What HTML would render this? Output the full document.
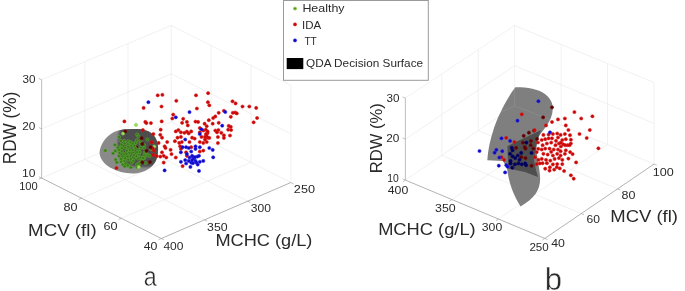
<!DOCTYPE html>
<html><head><meta charset="utf-8"><style>
html,body{margin:0;padding:0;background:#fff;width:685px;height:291px;overflow:hidden}
svg{display:block;will-change:transform}
text{font-family:"Liberation Sans", sans-serif;fill:#2a2a2a}
.big{stroke:#fff;stroke-width:0.4px;vector-effect:non-scaling-stroke}
</style></head><body>
<svg width="685" height="291" viewBox="0 0 685 291">
<rect width="685" height="291" fill="#fff"/>
<line x1="81.5" y1="198.2" x2="211.1" y2="142.2" stroke="#e8e8e8" stroke-width="0.6"/>
<line x1="204.5" y1="219.8" x2="84.8" y2="159.3" stroke="#e8e8e8" stroke-width="0.6"/>
<line x1="84.8" y1="159.3" x2="84.8" y2="61.7" stroke="#e8e8e8" stroke-width="0.6"/>
<line x1="211.1" y1="142.2" x2="211.1" y2="45.4" stroke="#e8e8e8" stroke-width="0.6"/>
<line x1="121.4" y1="218.3" x2="251.0" y2="162.3" stroke="#e8e8e8" stroke-width="0.6"/>
<line x1="247.7" y1="201.2" x2="128.0" y2="140.7" stroke="#e8e8e8" stroke-width="0.6"/>
<line x1="128.0" y1="140.7" x2="128.0" y2="43.6" stroke="#e8e8e8" stroke-width="0.6"/>
<line x1="251.0" y1="162.3" x2="251.0" y2="65.4" stroke="#e8e8e8" stroke-width="0.6"/>
<line x1="41.6" y1="128.9" x2="171.2" y2="73.8" stroke="#e8e8e8" stroke-width="0.6"/>
<line x1="171.2" y1="73.8" x2="290.9" y2="133.9" stroke="#e8e8e8" stroke-width="0.6"/>
<line x1="41.6" y1="79.8" x2="171.2" y2="25.5" stroke="#e8e8e8" stroke-width="0.6"/>
<line x1="171.2" y1="25.5" x2="290.9" y2="85.3" stroke="#e8e8e8" stroke-width="0.6"/>
<line x1="171.2" y1="122.0" x2="171.2" y2="25.5" stroke="#e8e8e8" stroke-width="0.6"/>
<line x1="290.9" y1="182.5" x2="290.9" y2="85.3" stroke="#e8e8e8" stroke-width="0.6"/>
<line x1="41.6" y1="178.0" x2="171.2" y2="122.0" stroke="#e8e8e8" stroke-width="0.6"/>
<line x1="171.2" y1="122.0" x2="290.9" y2="182.5" stroke="#e8e8e8" stroke-width="0.6"/>
<line x1="41.6" y1="178.0" x2="161.3" y2="238.5" stroke="#999999" stroke-width="0.75"/>
<line x1="161.3" y1="238.5" x2="290.9" y2="182.5" stroke="#999999" stroke-width="0.75"/>
<line x1="41.6" y1="178.0" x2="41.6" y2="79.8" stroke="#c4c4c4" stroke-width="1.1"/>
<line x1="41.6" y1="178.0" x2="38.8" y2="179.2" stroke="#999999" stroke-width="0.6"/>
<line x1="81.5" y1="198.2" x2="78.7" y2="199.4" stroke="#999999" stroke-width="0.6"/>
<line x1="121.4" y1="218.3" x2="118.6" y2="219.5" stroke="#999999" stroke-width="0.6"/>
<line x1="161.3" y1="238.5" x2="158.5" y2="239.7" stroke="#999999" stroke-width="0.6"/>
<line x1="161.3" y1="238.5" x2="164.0" y2="239.9" stroke="#999999" stroke-width="0.6"/>
<line x1="204.5" y1="219.8" x2="207.2" y2="221.2" stroke="#999999" stroke-width="0.6"/>
<line x1="247.7" y1="201.2" x2="250.4" y2="202.5" stroke="#999999" stroke-width="0.6"/>
<line x1="290.9" y1="182.5" x2="293.6" y2="183.9" stroke="#999999" stroke-width="0.6"/>
<line x1="41.6" y1="178.0" x2="38.9" y2="176.6" stroke="#999999" stroke-width="0.6"/>
<line x1="41.6" y1="128.9" x2="38.9" y2="127.5" stroke="#999999" stroke-width="0.6"/>
<line x1="41.6" y1="79.8" x2="38.9" y2="78.4" stroke="#999999" stroke-width="0.6"/>
<line x1="451.9" y1="199.5" x2="561.1" y2="125.2" stroke="#e8e8e8" stroke-width="0.6"/>
<line x1="581.2" y1="213.6" x2="441.8" y2="155.3" stroke="#e8e8e8" stroke-width="0.6"/>
<line x1="441.8" y1="155.3" x2="441.8" y2="73.9" stroke="#e8e8e8" stroke-width="0.6"/>
<line x1="561.1" y1="125.2" x2="561.1" y2="44.5" stroke="#e8e8e8" stroke-width="0.6"/>
<line x1="498.3" y1="219.0" x2="607.5" y2="144.7" stroke="#e8e8e8" stroke-width="0.6"/>
<line x1="617.6" y1="188.9" x2="478.2" y2="130.6" stroke="#e8e8e8" stroke-width="0.6"/>
<line x1="478.2" y1="130.6" x2="478.2" y2="49.7" stroke="#e8e8e8" stroke-width="0.6"/>
<line x1="607.5" y1="144.7" x2="607.5" y2="63.5" stroke="#e8e8e8" stroke-width="0.6"/>
<line x1="405.4" y1="139.1" x2="514.6" y2="65.6" stroke="#e8e8e8" stroke-width="0.6"/>
<line x1="514.6" y1="65.6" x2="654.0" y2="123.3" stroke="#e8e8e8" stroke-width="0.6"/>
<line x1="405.4" y1="98.1" x2="514.6" y2="25.5" stroke="#e8e8e8" stroke-width="0.6"/>
<line x1="514.6" y1="25.5" x2="654.0" y2="82.5" stroke="#e8e8e8" stroke-width="0.6"/>
<line x1="514.6" y1="105.8" x2="514.6" y2="25.5" stroke="#e8e8e8" stroke-width="0.6"/>
<line x1="654.0" y1="164.1" x2="654.0" y2="82.5" stroke="#e8e8e8" stroke-width="0.6"/>
<line x1="405.4" y1="180.1" x2="514.6" y2="105.8" stroke="#e8e8e8" stroke-width="0.6"/>
<line x1="514.6" y1="105.8" x2="654.0" y2="164.1" stroke="#e8e8e8" stroke-width="0.6"/>
<line x1="405.4" y1="180.1" x2="544.8" y2="238.4" stroke="#999999" stroke-width="0.75"/>
<line x1="544.8" y1="238.4" x2="654.0" y2="164.1" stroke="#999999" stroke-width="0.75"/>
<line x1="405.4" y1="180.1" x2="405.4" y2="98.1" stroke="#c4c4c4" stroke-width="1.1"/>
<line x1="405.4" y1="180.1" x2="402.9" y2="181.8" stroke="#999999" stroke-width="0.6"/>
<line x1="451.9" y1="199.5" x2="449.4" y2="201.2" stroke="#999999" stroke-width="0.6"/>
<line x1="498.3" y1="219.0" x2="495.9" y2="220.7" stroke="#999999" stroke-width="0.6"/>
<line x1="544.8" y1="238.4" x2="542.3" y2="240.1" stroke="#999999" stroke-width="0.6"/>
<line x1="544.8" y1="238.4" x2="547.6" y2="239.6" stroke="#999999" stroke-width="0.6"/>
<line x1="581.2" y1="213.6" x2="584.0" y2="214.8" stroke="#999999" stroke-width="0.6"/>
<line x1="617.6" y1="188.9" x2="620.4" y2="190.0" stroke="#999999" stroke-width="0.6"/>
<line x1="654.0" y1="164.1" x2="656.8" y2="165.3" stroke="#999999" stroke-width="0.6"/>
<line x1="405.4" y1="180.1" x2="402.6" y2="178.9" stroke="#999999" stroke-width="0.6"/>
<line x1="405.4" y1="139.1" x2="402.6" y2="137.9" stroke="#999999" stroke-width="0.6"/>
<line x1="405.4" y1="98.1" x2="402.6" y2="96.9" stroke="#999999" stroke-width="0.6"/>
<defs><clipPath id="ec"><path d="M99.6,152 C100.5,144 106,136 114,132 C121,129 132,128.8 141,129.3 C148,130 154,134 156.5,140 C158.8,146 158.6,154 156,160.5 C153,167 146,171.5 137,173.2 C128,174.2 118,172.2 110,167.5 C103.5,163.5 99.4,158 99.6,152 Z"/></clipPath><filter id="bl" x="-20%" y="-20%" width="140%" height="140%"><feGaussianBlur stdDeviation="1.1"/></filter></defs>
<path d="M99.6,152 C100.5,144 106,136 114,132 C121,129 132,128.8 141,129.3 C148,130 154,134 156.5,140 C158.8,146 158.6,154 156,160.5 C153,167 146,171.5 137,173.2 C128,174.2 118,172.2 110,167.5 C103.5,163.5 99.4,158 99.6,152 Z" fill="#8a8a8a"/>
<g clip-path="url(#ec)"><path filter="url(#bl)" d="M121,126 C127,124 134,124 141,124 C150,124 160,130 162,140 C164,150 162,158 158,163 C155,166 152.5,166.5 150,166.8 C142,167.5 132,167 126,164 C120,160 117.5,152 117.8,144 C118,138 119,132 121,126 Z" fill="#4e4e4e"/></g>
<path d="M515.3,87.3 C527,87.2 538,89 545,94 C550,98 553,103 552.8,109 C552.6,115 550,121 546.5,126 C543,131 539,135 537,140 C534.5,150 539.5,165 540,176 C541,188 536,198 520.6,206.4 C514,196 509,184 507,168 L503,161 L487.3,160.2 C488,150 490,140 494,128 C497.5,118 505,101 515.3,87.3 Z" fill="#7f7f7f"/>
<path d="M514.6,87.6 L514.6,106 L496,114 M514.6,106 L551.5,120" stroke="#ffffff" stroke-opacity="0.12" stroke-width="0.7" fill="none"/>
<path d="M507.5,146 L521,139.5 L536,132.5 L541,130 L537.5,140 L536,149 L534,160 L536,170 L538,177 L525,172 L508,168.5 Z" fill="#4e4e4e"/>
<circle cx="125.2" cy="131.4" r="1.6" fill="#5a0000" stroke="#700808" stroke-width="0.55"/>
<circle cx="141.4" cy="162.0" r="1.6" fill="#5a0000" stroke="#700808" stroke-width="0.55"/>
<circle cx="136.2" cy="147.3" r="1.6" fill="#5a0000" stroke="#700808" stroke-width="0.55"/>
<circle cx="119.1" cy="137.0" r="1.6" fill="#357a16" stroke="#66ad3a" stroke-width="0.55"/>
<circle cx="137.1" cy="134.5" r="1.6" fill="#357a16" stroke="#66ad3a" stroke-width="0.55"/>
<circle cx="114.8" cy="144.8" r="1.6" fill="#357a16" stroke="#66ad3a" stroke-width="0.55"/>
<circle cx="113.0" cy="153.4" r="1.6" fill="#357a16" stroke="#66ad3a" stroke-width="0.55"/>
<circle cx="119.9" cy="147.7" r="1.6" fill="#357a16" stroke="#66ad3a" stroke-width="0.55"/>
<circle cx="105.3" cy="150.5" r="1.6" fill="#357a16" stroke="#66ad3a" stroke-width="0.55"/>
<circle cx="122.0" cy="160.0" r="1.6" fill="#357a16" stroke="#66ad3a" stroke-width="0.55"/>
<circle cx="128.0" cy="166.0" r="1.6" fill="#357a16" stroke="#66ad3a" stroke-width="0.55"/>
<circle cx="121.0" cy="141.0" r="1.6" fill="#357a16" stroke="#66ad3a" stroke-width="0.55"/>
<circle cx="131.7" cy="162.6" r="1.6" fill="#357a16" stroke="#66ad3a" stroke-width="0.55"/>
<circle cx="124.5" cy="161.0" r="1.6" fill="#357a16" stroke="#66ad3a" stroke-width="0.55"/>
<circle cx="129.2" cy="152.8" r="1.6" fill="#357a16" stroke="#66ad3a" stroke-width="0.55"/>
<circle cx="144.3" cy="155.5" r="1.6" fill="#357a16" stroke="#66ad3a" stroke-width="0.55"/>
<circle cx="130.7" cy="159.2" r="1.6" fill="#357a16" stroke="#66ad3a" stroke-width="0.55"/>
<circle cx="138.9" cy="154.3" r="1.6" fill="#357a16" stroke="#66ad3a" stroke-width="0.55"/>
<circle cx="135.1" cy="148.2" r="1.6" fill="#357a16" stroke="#66ad3a" stroke-width="0.55"/>
<circle cx="121.7" cy="144.7" r="1.6" fill="#357a16" stroke="#66ad3a" stroke-width="0.55"/>
<circle cx="119.6" cy="152.9" r="1.6" fill="#357a16" stroke="#66ad3a" stroke-width="0.55"/>
<circle cx="131.5" cy="145.8" r="1.6" fill="#357a16" stroke="#66ad3a" stroke-width="0.55"/>
<circle cx="130.4" cy="156.0" r="1.6" fill="#357a16" stroke="#66ad3a" stroke-width="0.55"/>
<circle cx="128.2" cy="141.4" r="1.6" fill="#357a16" stroke="#66ad3a" stroke-width="0.55"/>
<circle cx="121.1" cy="161.7" r="1.6" fill="#357a16" stroke="#66ad3a" stroke-width="0.55"/>
<circle cx="115.6" cy="159.7" r="1.6" fill="#357a16" stroke="#66ad3a" stroke-width="0.55"/>
<circle cx="133.3" cy="152.5" r="1.6" fill="#357a16" stroke="#66ad3a" stroke-width="0.55"/>
<circle cx="134.2" cy="157.9" r="1.6" fill="#357a16" stroke="#66ad3a" stroke-width="0.55"/>
<circle cx="126.9" cy="150.6" r="1.6" fill="#357a16" stroke="#66ad3a" stroke-width="0.55"/>
<circle cx="124.1" cy="154.2" r="1.6" fill="#357a16" stroke="#66ad3a" stroke-width="0.55"/>
<circle cx="117.9" cy="147.4" r="1.6" fill="#357a16" stroke="#66ad3a" stroke-width="0.55"/>
<circle cx="124.3" cy="140.9" r="1.6" fill="#357a16" stroke="#66ad3a" stroke-width="0.55"/>
<circle cx="138.5" cy="149.7" r="1.6" fill="#357a16" stroke="#66ad3a" stroke-width="0.55"/>
<circle cx="129.9" cy="150.1" r="1.6" fill="#357a16" stroke="#66ad3a" stroke-width="0.55"/>
<circle cx="141.7" cy="160.7" r="1.6" fill="#357a16" stroke="#66ad3a" stroke-width="0.55"/>
<circle cx="127.6" cy="156.5" r="1.6" fill="#357a16" stroke="#66ad3a" stroke-width="0.55"/>
<circle cx="127.7" cy="165.2" r="1.6" fill="#357a16" stroke="#66ad3a" stroke-width="0.55"/>
<circle cx="133.3" cy="160.8" r="1.6" fill="#357a16" stroke="#66ad3a" stroke-width="0.55"/>
<circle cx="144.6" cy="157.9" r="1.6" fill="#357a16" stroke="#66ad3a" stroke-width="0.55"/>
<circle cx="122.8" cy="156.4" r="1.6" fill="#357a16" stroke="#66ad3a" stroke-width="0.55"/>
<circle cx="125.2" cy="147.6" r="1.6" fill="#357a16" stroke="#66ad3a" stroke-width="0.55"/>
<circle cx="121.9" cy="151.2" r="1.6" fill="#357a16" stroke="#66ad3a" stroke-width="0.55"/>
<circle cx="120.9" cy="158.8" r="1.6" fill="#357a16" stroke="#66ad3a" stroke-width="0.55"/>
<circle cx="127.9" cy="144.2" r="1.6" fill="#357a16" stroke="#66ad3a" stroke-width="0.55"/>
<circle cx="132.7" cy="150.0" r="1.6" fill="#357a16" stroke="#66ad3a" stroke-width="0.55"/>
<circle cx="128.2" cy="159.8" r="1.6" fill="#357a16" stroke="#66ad3a" stroke-width="0.55"/>
<circle cx="126.5" cy="153.7" r="1.6" fill="#357a16" stroke="#66ad3a" stroke-width="0.55"/>
<circle cx="135.7" cy="142.9" r="1.6" fill="#357a16" stroke="#66ad3a" stroke-width="0.55"/>
<circle cx="134.5" cy="145.8" r="1.6" fill="#357a16" stroke="#66ad3a" stroke-width="0.55"/>
<circle cx="147.8" cy="155.0" r="1.6" fill="#357a16" stroke="#66ad3a" stroke-width="0.55"/>
<circle cx="130.6" cy="142.1" r="1.6" fill="#357a16" stroke="#66ad3a" stroke-width="0.55"/>
<circle cx="144.2" cy="148.1" r="1.6" fill="#357a16" stroke="#66ad3a" stroke-width="0.55"/>
<circle cx="116.8" cy="162.4" r="1.6" fill="#357a16" stroke="#66ad3a" stroke-width="0.55"/>
<circle cx="130.8" cy="167.4" r="1.6" fill="#357a16" stroke="#66ad3a" stroke-width="0.55"/>
<circle cx="118.9" cy="156.1" r="1.6" fill="#357a16" stroke="#66ad3a" stroke-width="0.55"/>
<circle cx="136.9" cy="164.6" r="1.6" fill="#357a16" stroke="#66ad3a" stroke-width="0.55"/>
<circle cx="136.3" cy="156.1" r="1.6" fill="#357a16" stroke="#66ad3a" stroke-width="0.55"/>
<circle cx="144.6" cy="152.5" r="1.6" fill="#357a16" stroke="#66ad3a" stroke-width="0.55"/>
<circle cx="138.1" cy="158.5" r="1.6" fill="#357a16" stroke="#66ad3a" stroke-width="0.55"/>
<circle cx="137.2" cy="152.1" r="1.6" fill="#357a16" stroke="#66ad3a" stroke-width="0.55"/>
<circle cx="140.9" cy="147.6" r="1.6" fill="#357a16" stroke="#66ad3a" stroke-width="0.55"/>
<circle cx="140.2" cy="162.8" r="1.6" fill="#357a16" stroke="#66ad3a" stroke-width="0.55"/>
<circle cx="124.8" cy="143.5" r="1.6" fill="#357a16" stroke="#66ad3a" stroke-width="0.55"/>
<circle cx="139.8" cy="152.0" r="1.6" fill="#357a16" stroke="#66ad3a" stroke-width="0.55"/>
<circle cx="118.9" cy="149.7" r="1.6" fill="#357a16" stroke="#66ad3a" stroke-width="0.55"/>
<circle cx="140.5" cy="143.7" r="1.6" fill="#357a16" stroke="#66ad3a" stroke-width="0.55"/>
<circle cx="132.7" cy="143.7" r="1.6" fill="#357a16" stroke="#66ad3a" stroke-width="0.55"/>
<circle cx="125.5" cy="163.5" r="1.6" fill="#357a16" stroke="#66ad3a" stroke-width="0.55"/>
<circle cx="122.8" cy="164.6" r="1.6" fill="#357a16" stroke="#66ad3a" stroke-width="0.55"/>
<circle cx="121.9" cy="148.3" r="1.6" fill="#357a16" stroke="#66ad3a" stroke-width="0.55"/>
<circle cx="115.3" cy="150.9" r="1.6" fill="#357a16" stroke="#66ad3a" stroke-width="0.55"/>
<circle cx="124.7" cy="166.3" r="1.6" fill="#357a16" stroke="#66ad3a" stroke-width="0.55"/>
<circle cx="136.7" cy="140.4" r="1.6" fill="#357a16" stroke="#66ad3a" stroke-width="0.55"/>
<circle cx="128.3" cy="146.8" r="1.6" fill="#357a16" stroke="#66ad3a" stroke-width="0.55"/>
<circle cx="137.3" cy="167.1" r="1.6" fill="#357a16" stroke="#66ad3a" stroke-width="0.55"/>
<circle cx="125.2" cy="158.2" r="1.6" fill="#357a16" stroke="#66ad3a" stroke-width="0.55"/>
<circle cx="134.0" cy="155.0" r="1.6" fill="#357a16" stroke="#66ad3a" stroke-width="0.55"/>
<circle cx="140.6" cy="157.6" r="1.6" fill="#357a16" stroke="#66ad3a" stroke-width="0.55"/>
<circle cx="140.5" cy="141.0" r="1.6" fill="#357a16" stroke="#66ad3a" stroke-width="0.55"/>
<circle cx="144.0" cy="145.0" r="1.6" fill="#357a16" stroke="#66ad3a" stroke-width="0.55"/>
<circle cx="147.5" cy="139.5" r="1.6" fill="#357a16" stroke="#66ad3a" stroke-width="0.55"/>
<circle cx="146.0" cy="152.0" r="1.6" fill="#357a16" stroke="#66ad3a" stroke-width="0.55"/>
<circle cx="149.5" cy="156.0" r="1.6" fill="#357a16" stroke="#66ad3a" stroke-width="0.55"/>
<circle cx="143.0" cy="158.0" r="1.6" fill="#357a16" stroke="#66ad3a" stroke-width="0.55"/>
<circle cx="139.0" cy="163.5" r="1.6" fill="#357a16" stroke="#66ad3a" stroke-width="0.55"/>
<circle cx="151.0" cy="149.0" r="1.6" fill="#357a16" stroke="#66ad3a" stroke-width="0.55"/>
<circle cx="145.5" cy="163.0" r="1.6" fill="#357a16" stroke="#66ad3a" stroke-width="0.55"/>
<circle cx="138.5" cy="136.5" r="1.6" fill="#357a16" stroke="#66ad3a" stroke-width="0.55"/>
<circle cx="136.0" cy="124.9" r="1.6" fill="#9ee060" stroke="#7acc40" stroke-width="0.55"/>
<circle cx="123.0" cy="133.6" r="1.6" fill="#9ee060" stroke="#7acc40" stroke-width="0.55"/>
<circle cx="138.8" cy="167.1" r="1.6" fill="#9ee060" stroke="#7acc40" stroke-width="0.55"/>
<circle cx="154.3" cy="146.5" r="1.6" fill="#9ee060" stroke="#7acc40" stroke-width="0.55"/>
<circle cx="157.7" cy="95.3" r="1.6" fill="#c40808" stroke="#e01616" stroke-width="0.55"/>
<circle cx="162.4" cy="94.8" r="1.6" fill="#c40808" stroke="#e01616" stroke-width="0.55"/>
<circle cx="196.0" cy="95.3" r="1.6" fill="#c40808" stroke="#e01616" stroke-width="0.55"/>
<circle cx="176.3" cy="100.8" r="1.6" fill="#c40808" stroke="#e01616" stroke-width="0.55"/>
<circle cx="161.5" cy="106.5" r="1.6" fill="#c40808" stroke="#e01616" stroke-width="0.55"/>
<circle cx="208.1" cy="93.2" r="1.6" fill="#c40808" stroke="#e01616" stroke-width="0.55"/>
<circle cx="207.9" cy="102.2" r="1.6" fill="#c40808" stroke="#e01616" stroke-width="0.55"/>
<circle cx="209.3" cy="105.3" r="1.6" fill="#c40808" stroke="#e01616" stroke-width="0.55"/>
<circle cx="196.9" cy="108.5" r="1.6" fill="#c40808" stroke="#e01616" stroke-width="0.55"/>
<circle cx="173.2" cy="114.6" r="1.6" fill="#c40808" stroke="#e01616" stroke-width="0.55"/>
<circle cx="172.3" cy="118.5" r="1.6" fill="#c40808" stroke="#e01616" stroke-width="0.55"/>
<circle cx="183.2" cy="118.8" r="1.6" fill="#c40808" stroke="#e01616" stroke-width="0.55"/>
<circle cx="161.7" cy="121.4" r="1.6" fill="#c40808" stroke="#e01616" stroke-width="0.55"/>
<circle cx="150.9" cy="123.1" r="1.6" fill="#c40808" stroke="#e01616" stroke-width="0.55"/>
<circle cx="182.1" cy="122.8" r="1.6" fill="#c40808" stroke="#e01616" stroke-width="0.55"/>
<circle cx="186.9" cy="121.9" r="1.6" fill="#c40808" stroke="#e01616" stroke-width="0.55"/>
<circle cx="187.8" cy="125.4" r="1.6" fill="#c40808" stroke="#e01616" stroke-width="0.55"/>
<circle cx="195.5" cy="121.6" r="1.6" fill="#c40808" stroke="#e01616" stroke-width="0.55"/>
<circle cx="198.1" cy="121.9" r="1.6" fill="#c40808" stroke="#e01616" stroke-width="0.55"/>
<circle cx="204.6" cy="123.7" r="1.6" fill="#c40808" stroke="#e01616" stroke-width="0.55"/>
<circle cx="208.8" cy="120.2" r="1.6" fill="#c40808" stroke="#e01616" stroke-width="0.55"/>
<circle cx="206.7" cy="126.2" r="1.6" fill="#c40808" stroke="#e01616" stroke-width="0.55"/>
<circle cx="160.7" cy="129.7" r="1.6" fill="#c40808" stroke="#e01616" stroke-width="0.55"/>
<circle cx="153.4" cy="134.0" r="1.6" fill="#c40808" stroke="#e01616" stroke-width="0.55"/>
<circle cx="160.3" cy="134.8" r="1.6" fill="#c40808" stroke="#e01616" stroke-width="0.55"/>
<circle cx="175.8" cy="131.4" r="1.6" fill="#c40808" stroke="#e01616" stroke-width="0.55"/>
<circle cx="178.4" cy="130.0" r="1.6" fill="#c40808" stroke="#e01616" stroke-width="0.55"/>
<circle cx="180.9" cy="132.3" r="1.6" fill="#c40808" stroke="#e01616" stroke-width="0.55"/>
<circle cx="184.4" cy="132.8" r="1.6" fill="#c40808" stroke="#e01616" stroke-width="0.55"/>
<circle cx="186.9" cy="131.7" r="1.6" fill="#c40808" stroke="#e01616" stroke-width="0.55"/>
<circle cx="191.2" cy="131.4" r="1.6" fill="#c40808" stroke="#e01616" stroke-width="0.55"/>
<circle cx="199.8" cy="128.0" r="1.6" fill="#c40808" stroke="#e01616" stroke-width="0.55"/>
<circle cx="199.8" cy="132.3" r="1.6" fill="#c40808" stroke="#e01616" stroke-width="0.55"/>
<circle cx="203.3" cy="130.5" r="1.6" fill="#c40808" stroke="#e01616" stroke-width="0.55"/>
<circle cx="205.8" cy="129.7" r="1.6" fill="#c40808" stroke="#e01616" stroke-width="0.55"/>
<circle cx="207.6" cy="133.1" r="1.6" fill="#c40808" stroke="#e01616" stroke-width="0.55"/>
<circle cx="143.6" cy="107.9" r="1.6" fill="#c40808" stroke="#e01616" stroke-width="0.55"/>
<circle cx="124.4" cy="121.4" r="1.6" fill="#c40808" stroke="#e01616" stroke-width="0.55"/>
<circle cx="145.3" cy="121.9" r="1.6" fill="#c40808" stroke="#e01616" stroke-width="0.55"/>
<circle cx="146.4" cy="123.1" r="1.6" fill="#c40808" stroke="#e01616" stroke-width="0.55"/>
<circle cx="142.9" cy="130.0" r="1.6" fill="#c40808" stroke="#e01616" stroke-width="0.55"/>
<circle cx="232.5" cy="101.3" r="1.6" fill="#c40808" stroke="#e01616" stroke-width="0.55"/>
<circle cx="235.6" cy="103.4" r="1.6" fill="#c40808" stroke="#e01616" stroke-width="0.55"/>
<circle cx="242.5" cy="106.5" r="1.6" fill="#c40808" stroke="#e01616" stroke-width="0.55"/>
<circle cx="249.3" cy="106.5" r="1.6" fill="#c40808" stroke="#e01616" stroke-width="0.55"/>
<circle cx="256.2" cy="107.9" r="1.6" fill="#c40808" stroke="#e01616" stroke-width="0.55"/>
<circle cx="218.7" cy="112.8" r="1.6" fill="#c40808" stroke="#e01616" stroke-width="0.55"/>
<circle cx="223.9" cy="110.8" r="1.6" fill="#c40808" stroke="#e01616" stroke-width="0.55"/>
<circle cx="232.8" cy="112.8" r="1.6" fill="#c40808" stroke="#e01616" stroke-width="0.55"/>
<circle cx="235.1" cy="112.5" r="1.6" fill="#c40808" stroke="#e01616" stroke-width="0.55"/>
<circle cx="236.8" cy="113.4" r="1.6" fill="#c40808" stroke="#e01616" stroke-width="0.55"/>
<circle cx="230.8" cy="116.8" r="1.6" fill="#c40808" stroke="#e01616" stroke-width="0.55"/>
<circle cx="215.3" cy="116.4" r="1.6" fill="#c40808" stroke="#e01616" stroke-width="0.55"/>
<circle cx="213.2" cy="118.0" r="1.6" fill="#c40808" stroke="#e01616" stroke-width="0.55"/>
<circle cx="257.1" cy="118.0" r="1.6" fill="#c40808" stroke="#e01616" stroke-width="0.55"/>
<circle cx="253.6" cy="122.3" r="1.6" fill="#c40808" stroke="#e01616" stroke-width="0.55"/>
<circle cx="218.7" cy="122.8" r="1.6" fill="#c40808" stroke="#e01616" stroke-width="0.55"/>
<circle cx="212.7" cy="123.7" r="1.6" fill="#c40808" stroke="#e01616" stroke-width="0.55"/>
<circle cx="228.7" cy="125.9" r="1.6" fill="#c40808" stroke="#e01616" stroke-width="0.55"/>
<circle cx="230.8" cy="126.8" r="1.6" fill="#c40808" stroke="#e01616" stroke-width="0.55"/>
<circle cx="228.2" cy="129.7" r="1.6" fill="#c40808" stroke="#e01616" stroke-width="0.55"/>
<circle cx="231.1" cy="130.0" r="1.6" fill="#c40808" stroke="#e01616" stroke-width="0.55"/>
<circle cx="215.3" cy="130.5" r="1.6" fill="#c40808" stroke="#e01616" stroke-width="0.55"/>
<circle cx="218.4" cy="130.0" r="1.6" fill="#c40808" stroke="#e01616" stroke-width="0.55"/>
<circle cx="217.0" cy="132.3" r="1.6" fill="#c40808" stroke="#e01616" stroke-width="0.55"/>
<circle cx="221.3" cy="132.8" r="1.6" fill="#c40808" stroke="#e01616" stroke-width="0.55"/>
<circle cx="207.6" cy="131.4" r="1.6" fill="#c40808" stroke="#e01616" stroke-width="0.55"/>
<circle cx="205.9" cy="134.0" r="1.6" fill="#c40808" stroke="#e01616" stroke-width="0.55"/>
<circle cx="230.0" cy="135.5" r="1.6" fill="#c40808" stroke="#e01616" stroke-width="0.55"/>
<circle cx="116.5" cy="168.0" r="1.6" fill="#c40808" stroke="#e01616" stroke-width="0.55"/>
<circle cx="151.7" cy="142.2" r="1.6" fill="#c40808" stroke="#e01616" stroke-width="0.55"/>
<circle cx="152.6" cy="148.2" r="1.6" fill="#c40808" stroke="#e01616" stroke-width="0.55"/>
<circle cx="150.0" cy="162.0" r="1.6" fill="#5a0000" stroke="#700808" stroke-width="0.55"/>
<circle cx="153.4" cy="155.0" r="1.6" fill="#c40808" stroke="#e01616" stroke-width="0.55"/>
<circle cx="142.3" cy="143.9" r="1.6" fill="#5a0000" stroke="#700808" stroke-width="0.55"/>
<circle cx="146.5" cy="150.8" r="1.6" fill="#5a0000" stroke="#700808" stroke-width="0.55"/>
<circle cx="141.6" cy="138.2" r="1.6" fill="#5a0000" stroke="#700808" stroke-width="0.55"/>
<circle cx="150.5" cy="147.2" r="1.6" fill="#5a0000" stroke="#700808" stroke-width="0.55"/>
<circle cx="154.0" cy="150.6" r="1.6" fill="#c40808" stroke="#e01616" stroke-width="0.55"/>
<circle cx="142.3" cy="162.3" r="1.6" fill="#5a0000" stroke="#700808" stroke-width="0.55"/>
<circle cx="156.7" cy="156.1" r="1.6" fill="#c40808" stroke="#e01616" stroke-width="0.55"/>
<circle cx="162.0" cy="137.7" r="1.6" fill="#c40808" stroke="#e01616" stroke-width="0.55"/>
<circle cx="158.6" cy="142.9" r="1.6" fill="#c40808" stroke="#e01616" stroke-width="0.55"/>
<circle cx="167.2" cy="142.0" r="1.6" fill="#c40808" stroke="#e01616" stroke-width="0.55"/>
<circle cx="164.6" cy="146.3" r="1.6" fill="#c40808" stroke="#e01616" stroke-width="0.55"/>
<circle cx="165.5" cy="148.0" r="1.6" fill="#c40808" stroke="#e01616" stroke-width="0.55"/>
<circle cx="170.6" cy="149.8" r="1.6" fill="#c40808" stroke="#e01616" stroke-width="0.55"/>
<circle cx="171.5" cy="154.1" r="1.6" fill="#c40808" stroke="#e01616" stroke-width="0.55"/>
<circle cx="162.0" cy="152.3" r="1.6" fill="#c40808" stroke="#e01616" stroke-width="0.55"/>
<circle cx="163.7" cy="155.8" r="1.6" fill="#c40808" stroke="#e01616" stroke-width="0.55"/>
<circle cx="160.3" cy="156.6" r="1.6" fill="#c40808" stroke="#e01616" stroke-width="0.55"/>
<circle cx="166.3" cy="157.5" r="1.6" fill="#c40808" stroke="#e01616" stroke-width="0.55"/>
<circle cx="175.8" cy="157.5" r="1.6" fill="#c40808" stroke="#e01616" stroke-width="0.55"/>
<circle cx="163.7" cy="162.6" r="1.6" fill="#c40808" stroke="#e01616" stroke-width="0.55"/>
<circle cx="180.9" cy="136.9" r="1.6" fill="#c40808" stroke="#e01616" stroke-width="0.55"/>
<circle cx="177.5" cy="137.7" r="1.6" fill="#c40808" stroke="#e01616" stroke-width="0.55"/>
<circle cx="174.9" cy="141.2" r="1.6" fill="#c40808" stroke="#e01616" stroke-width="0.55"/>
<circle cx="179.2" cy="142.9" r="1.6" fill="#c40808" stroke="#e01616" stroke-width="0.55"/>
<circle cx="181.8" cy="142.0" r="1.6" fill="#c40808" stroke="#e01616" stroke-width="0.55"/>
<circle cx="180.1" cy="146.3" r="1.6" fill="#c40808" stroke="#e01616" stroke-width="0.55"/>
<circle cx="180.9" cy="148.9" r="1.6" fill="#c40808" stroke="#e01616" stroke-width="0.55"/>
<circle cx="188.7" cy="133.4" r="1.6" fill="#c40808" stroke="#e01616" stroke-width="0.55"/>
<circle cx="192.1" cy="137.7" r="1.6" fill="#c40808" stroke="#e01616" stroke-width="0.55"/>
<circle cx="189.5" cy="142.0" r="1.6" fill="#c40808" stroke="#e01616" stroke-width="0.55"/>
<circle cx="194.7" cy="138.6" r="1.6" fill="#c40808" stroke="#e01616" stroke-width="0.55"/>
<circle cx="201.5" cy="136.9" r="1.6" fill="#c40808" stroke="#e01616" stroke-width="0.55"/>
<circle cx="205.0" cy="136.9" r="1.6" fill="#c40808" stroke="#e01616" stroke-width="0.55"/>
<circle cx="207.6" cy="137.7" r="1.6" fill="#c40808" stroke="#e01616" stroke-width="0.55"/>
<circle cx="199.8" cy="142.0" r="1.6" fill="#c40808" stroke="#e01616" stroke-width="0.55"/>
<circle cx="203.3" cy="142.9" r="1.6" fill="#c40808" stroke="#e01616" stroke-width="0.55"/>
<circle cx="206.7" cy="142.0" r="1.6" fill="#c40808" stroke="#e01616" stroke-width="0.55"/>
<circle cx="199.8" cy="151.5" r="1.6" fill="#c40808" stroke="#e01616" stroke-width="0.55"/>
<circle cx="203.3" cy="150.6" r="1.6" fill="#c40808" stroke="#e01616" stroke-width="0.55"/>
<circle cx="186.1" cy="152.3" r="1.6" fill="#c40808" stroke="#e01616" stroke-width="0.55"/>
<circle cx="186.9" cy="155.8" r="1.6" fill="#c40808" stroke="#e01616" stroke-width="0.55"/>
<circle cx="182.6" cy="166.1" r="1.6" fill="#c40808" stroke="#e01616" stroke-width="0.55"/>
<circle cx="191.2" cy="147.2" r="1.6" fill="#c40808" stroke="#e01616" stroke-width="0.55"/>
<circle cx="206.7" cy="136.2" r="1.6" fill="#c40808" stroke="#e01616" stroke-width="0.55"/>
<circle cx="205.0" cy="139.6" r="1.6" fill="#c40808" stroke="#e01616" stroke-width="0.55"/>
<circle cx="209.3" cy="137.9" r="1.6" fill="#c40808" stroke="#e01616" stroke-width="0.55"/>
<circle cx="217.9" cy="137.0" r="1.6" fill="#c40808" stroke="#e01616" stroke-width="0.55"/>
<circle cx="223.9" cy="135.3" r="1.6" fill="#c40808" stroke="#e01616" stroke-width="0.55"/>
<circle cx="223.9" cy="137.9" r="1.6" fill="#c40808" stroke="#e01616" stroke-width="0.55"/>
<circle cx="217.9" cy="143.0" r="1.6" fill="#c40808" stroke="#e01616" stroke-width="0.55"/>
<circle cx="192.9" cy="157.1" r="1.6" fill="#c40808" stroke="#e01616" stroke-width="0.55"/>
<circle cx="189.5" cy="112.1" r="1.6" fill="#1008c0" stroke="#2020ec" stroke-width="0.55"/>
<circle cx="175.8" cy="117.3" r="1.6" fill="#1008c0" stroke="#2020ec" stroke-width="0.55"/>
<circle cx="148.4" cy="102.2" r="1.6" fill="#1008c0" stroke="#2020ec" stroke-width="0.55"/>
<circle cx="201.5" cy="129.3" r="1.6" fill="#1008c0" stroke="#2020ec" stroke-width="0.55"/>
<circle cx="199.8" cy="134.0" r="1.6" fill="#1008c0" stroke="#2020ec" stroke-width="0.55"/>
<circle cx="225.3" cy="112.0" r="1.6" fill="#1008c0" stroke="#2020ec" stroke-width="0.55"/>
<circle cx="222.2" cy="125.7" r="1.6" fill="#1008c0" stroke="#2020ec" stroke-width="0.55"/>
<circle cx="185.2" cy="139.5" r="1.6" fill="#1008c0" stroke="#2020ec" stroke-width="0.55"/>
<circle cx="182.6" cy="147.2" r="1.6" fill="#1008c0" stroke="#2020ec" stroke-width="0.55"/>
<circle cx="186.1" cy="147.2" r="1.6" fill="#1008c0" stroke="#2020ec" stroke-width="0.55"/>
<circle cx="188.7" cy="148.0" r="1.6" fill="#1008c0" stroke="#2020ec" stroke-width="0.55"/>
<circle cx="191.2" cy="151.5" r="1.6" fill="#1008c0" stroke="#2020ec" stroke-width="0.55"/>
<circle cx="195.5" cy="146.3" r="1.6" fill="#1008c0" stroke="#2020ec" stroke-width="0.55"/>
<circle cx="195.5" cy="148.9" r="1.6" fill="#1008c0" stroke="#2020ec" stroke-width="0.55"/>
<circle cx="180.9" cy="152.3" r="1.6" fill="#1008c0" stroke="#2020ec" stroke-width="0.55"/>
<circle cx="186.9" cy="154.1" r="1.6" fill="#1008c0" stroke="#2020ec" stroke-width="0.55"/>
<circle cx="192.1" cy="155.8" r="1.6" fill="#1008c0" stroke="#2020ec" stroke-width="0.55"/>
<circle cx="189.5" cy="157.5" r="1.6" fill="#1008c0" stroke="#2020ec" stroke-width="0.55"/>
<circle cx="193.8" cy="158.4" r="1.6" fill="#1008c0" stroke="#2020ec" stroke-width="0.55"/>
<circle cx="197.3" cy="156.6" r="1.6" fill="#1008c0" stroke="#2020ec" stroke-width="0.55"/>
<circle cx="185.2" cy="160.1" r="1.6" fill="#1008c0" stroke="#2020ec" stroke-width="0.55"/>
<circle cx="188.7" cy="160.9" r="1.6" fill="#1008c0" stroke="#2020ec" stroke-width="0.55"/>
<circle cx="192.1" cy="160.1" r="1.6" fill="#1008c0" stroke="#2020ec" stroke-width="0.55"/>
<circle cx="195.5" cy="160.9" r="1.6" fill="#1008c0" stroke="#2020ec" stroke-width="0.55"/>
<circle cx="180.9" cy="161.8" r="1.6" fill="#1008c0" stroke="#2020ec" stroke-width="0.55"/>
<circle cx="186.1" cy="163.5" r="1.6" fill="#1008c0" stroke="#2020ec" stroke-width="0.55"/>
<circle cx="191.2" cy="162.6" r="1.6" fill="#1008c0" stroke="#2020ec" stroke-width="0.55"/>
<circle cx="196.4" cy="162.6" r="1.6" fill="#1008c0" stroke="#2020ec" stroke-width="0.55"/>
<circle cx="199.8" cy="161.8" r="1.6" fill="#1008c0" stroke="#2020ec" stroke-width="0.55"/>
<circle cx="203.3" cy="160.9" r="1.6" fill="#1008c0" stroke="#2020ec" stroke-width="0.55"/>
<circle cx="199.0" cy="155.8" r="1.6" fill="#1008c0" stroke="#2020ec" stroke-width="0.55"/>
<circle cx="199.8" cy="147.2" r="1.6" fill="#1008c0" stroke="#2020ec" stroke-width="0.55"/>
<circle cx="190.4" cy="166.9" r="1.6" fill="#1008c0" stroke="#2020ec" stroke-width="0.55"/>
<circle cx="164.6" cy="170.4" r="1.6" fill="#1008c0" stroke="#2020ec" stroke-width="0.55"/>
<circle cx="199.0" cy="170.9" r="1.6" fill="#1008c0" stroke="#2020ec" stroke-width="0.55"/>
<circle cx="209.3" cy="148.0" r="1.6" fill="#1008c0" stroke="#2020ec" stroke-width="0.55"/>
<circle cx="212.7" cy="149.9" r="1.6" fill="#1008c0" stroke="#2020ec" stroke-width="0.55"/>
<circle cx="213.2" cy="157.3" r="1.6" fill="#1008c0" stroke="#2020ec" stroke-width="0.55"/>
<circle cx="197.7" cy="164.6" r="1.6" fill="#1008c0" stroke="#2020ec" stroke-width="0.55"/>
<circle cx="195.0" cy="157.1" r="1.6" fill="#1008c0" stroke="#2020ec" stroke-width="0.55"/>
<circle cx="192.9" cy="163.2" r="1.6" fill="#1008c0" stroke="#2020ec" stroke-width="0.55"/>
<circle cx="552.0" cy="107.3" r="1.6" fill="#5a0000" stroke="#700808" stroke-width="0.55"/>
<circle cx="543.1" cy="117.3" r="1.6" fill="#5a0000" stroke="#700808" stroke-width="0.55"/>
<circle cx="534.0" cy="130.6" r="1.6" fill="#5a0000" stroke="#700808" stroke-width="0.55"/>
<circle cx="528.9" cy="132.7" r="1.6" fill="#5a0000" stroke="#700808" stroke-width="0.55"/>
<circle cx="523.7" cy="135.8" r="1.6" fill="#5a0000" stroke="#700808" stroke-width="0.55"/>
<circle cx="530.9" cy="140.9" r="1.6" fill="#5a0000" stroke="#700808" stroke-width="0.55"/>
<circle cx="524.7" cy="147.1" r="1.6" fill="#5a0000" stroke="#700808" stroke-width="0.55"/>
<circle cx="537.1" cy="138.9" r="1.6" fill="#5a0000" stroke="#700808" stroke-width="0.55"/>
<circle cx="523.0" cy="142.6" r="1.6" fill="#5a0000" stroke="#700808" stroke-width="0.55"/>
<circle cx="516.1" cy="147.8" r="1.6" fill="#5a0000" stroke="#700808" stroke-width="0.55"/>
<circle cx="525.5" cy="148.6" r="1.6" fill="#5a0000" stroke="#700808" stroke-width="0.55"/>
<circle cx="530.7" cy="145.2" r="1.6" fill="#5a0000" stroke="#700808" stroke-width="0.55"/>
<circle cx="521.2" cy="157.2" r="1.6" fill="#5a0000" stroke="#700808" stroke-width="0.55"/>
<circle cx="525.5" cy="158.1" r="1.6" fill="#5a0000" stroke="#700808" stroke-width="0.55"/>
<circle cx="521.2" cy="152.9" r="1.6" fill="#00005a" stroke="#000072" stroke-width="0.55"/>
<circle cx="574.4" cy="112.1" r="1.6" fill="#c40808" stroke="#e01616" stroke-width="0.55"/>
<circle cx="592.4" cy="116.3" r="1.6" fill="#c40808" stroke="#e01616" stroke-width="0.55"/>
<circle cx="581.2" cy="118.5" r="1.6" fill="#c40808" stroke="#e01616" stroke-width="0.55"/>
<circle cx="564.9" cy="118.5" r="1.6" fill="#c40808" stroke="#e01616" stroke-width="0.55"/>
<circle cx="558.0" cy="119.4" r="1.6" fill="#c40808" stroke="#e01616" stroke-width="0.55"/>
<circle cx="552.0" cy="122.0" r="1.6" fill="#c40808" stroke="#e01616" stroke-width="0.55"/>
<circle cx="546.0" cy="125.4" r="1.6" fill="#c40808" stroke="#e01616" stroke-width="0.55"/>
<circle cx="565.8" cy="125.4" r="1.6" fill="#c40808" stroke="#e01616" stroke-width="0.55"/>
<circle cx="568.4" cy="130.0" r="1.6" fill="#c40808" stroke="#e01616" stroke-width="0.55"/>
<circle cx="589.8" cy="130.0" r="1.6" fill="#c40808" stroke="#e01616" stroke-width="0.55"/>
<circle cx="552.9" cy="134.0" r="1.6" fill="#c40808" stroke="#e01616" stroke-width="0.55"/>
<circle cx="557.2" cy="133.5" r="1.6" fill="#c40808" stroke="#e01616" stroke-width="0.55"/>
<circle cx="564.9" cy="134.0" r="1.6" fill="#c40808" stroke="#e01616" stroke-width="0.55"/>
<circle cx="579.5" cy="134.0" r="1.6" fill="#c40808" stroke="#e01616" stroke-width="0.55"/>
<circle cx="543.4" cy="134.9" r="1.6" fill="#c40808" stroke="#e01616" stroke-width="0.55"/>
<circle cx="548.6" cy="134.5" r="1.6" fill="#c40808" stroke="#e01616" stroke-width="0.55"/>
<circle cx="560.6" cy="134.9" r="1.6" fill="#c40808" stroke="#e01616" stroke-width="0.55"/>
<circle cx="570.0" cy="135.2" r="1.6" fill="#c40808" stroke="#e01616" stroke-width="0.55"/>
<circle cx="586.7" cy="138.0" r="1.6" fill="#c40808" stroke="#e01616" stroke-width="0.55"/>
<circle cx="541.7" cy="140.0" r="1.6" fill="#c40808" stroke="#e01616" stroke-width="0.55"/>
<circle cx="545.2" cy="139.2" r="1.6" fill="#c40808" stroke="#e01616" stroke-width="0.55"/>
<circle cx="548.6" cy="138.3" r="1.6" fill="#c40808" stroke="#e01616" stroke-width="0.55"/>
<circle cx="552.0" cy="138.3" r="1.6" fill="#c40808" stroke="#e01616" stroke-width="0.55"/>
<circle cx="558.0" cy="137.5" r="1.6" fill="#c40808" stroke="#e01616" stroke-width="0.55"/>
<circle cx="562.3" cy="140.0" r="1.6" fill="#c40808" stroke="#e01616" stroke-width="0.55"/>
<circle cx="565.8" cy="139.2" r="1.6" fill="#c40808" stroke="#e01616" stroke-width="0.55"/>
<circle cx="570.9" cy="139.7" r="1.6" fill="#c40808" stroke="#e01616" stroke-width="0.55"/>
<circle cx="542.6" cy="145.2" r="1.6" fill="#c40808" stroke="#e01616" stroke-width="0.55"/>
<circle cx="546.9" cy="143.5" r="1.6" fill="#c40808" stroke="#e01616" stroke-width="0.55"/>
<circle cx="551.2" cy="142.6" r="1.6" fill="#c40808" stroke="#e01616" stroke-width="0.55"/>
<circle cx="555.5" cy="145.2" r="1.6" fill="#c40808" stroke="#e01616" stroke-width="0.55"/>
<circle cx="558.9" cy="143.5" r="1.6" fill="#c40808" stroke="#e01616" stroke-width="0.55"/>
<circle cx="563.2" cy="144.3" r="1.6" fill="#c40808" stroke="#e01616" stroke-width="0.55"/>
<circle cx="567.5" cy="145.2" r="1.6" fill="#c40808" stroke="#e01616" stroke-width="0.55"/>
<circle cx="570.9" cy="143.5" r="1.6" fill="#c40808" stroke="#e01616" stroke-width="0.55"/>
<circle cx="541.7" cy="149.5" r="1.6" fill="#c40808" stroke="#e01616" stroke-width="0.55"/>
<circle cx="545.2" cy="148.6" r="1.6" fill="#c40808" stroke="#e01616" stroke-width="0.55"/>
<circle cx="549.5" cy="148.6" r="1.6" fill="#c40808" stroke="#e01616" stroke-width="0.55"/>
<circle cx="553.7" cy="149.5" r="1.6" fill="#c40808" stroke="#e01616" stroke-width="0.55"/>
<circle cx="558.0" cy="149.5" r="1.6" fill="#c40808" stroke="#e01616" stroke-width="0.55"/>
<circle cx="560.6" cy="151.2" r="1.6" fill="#c40808" stroke="#e01616" stroke-width="0.55"/>
<circle cx="565.8" cy="150.3" r="1.6" fill="#c40808" stroke="#e01616" stroke-width="0.55"/>
<circle cx="570.1" cy="152.1" r="1.6" fill="#c40808" stroke="#e01616" stroke-width="0.55"/>
<circle cx="598.4" cy="148.3" r="1.6" fill="#c40808" stroke="#e01616" stroke-width="0.55"/>
<circle cx="543.4" cy="153.8" r="1.6" fill="#c40808" stroke="#e01616" stroke-width="0.55"/>
<circle cx="547.7" cy="154.6" r="1.6" fill="#c40808" stroke="#e01616" stroke-width="0.55"/>
<circle cx="552.9" cy="155.5" r="1.6" fill="#c40808" stroke="#e01616" stroke-width="0.55"/>
<circle cx="557.2" cy="153.8" r="1.6" fill="#c40808" stroke="#e01616" stroke-width="0.55"/>
<circle cx="560.6" cy="155.5" r="1.6" fill="#c40808" stroke="#e01616" stroke-width="0.55"/>
<circle cx="564.9" cy="153.8" r="1.6" fill="#c40808" stroke="#e01616" stroke-width="0.55"/>
<circle cx="572.6" cy="154.1" r="1.6" fill="#c40808" stroke="#e01616" stroke-width="0.55"/>
<circle cx="541.7" cy="158.9" r="1.6" fill="#c40808" stroke="#e01616" stroke-width="0.55"/>
<circle cx="546.0" cy="159.8" r="1.6" fill="#c40808" stroke="#e01616" stroke-width="0.55"/>
<circle cx="550.3" cy="160.6" r="1.6" fill="#c40808" stroke="#e01616" stroke-width="0.55"/>
<circle cx="554.6" cy="158.9" r="1.6" fill="#c40808" stroke="#e01616" stroke-width="0.55"/>
<circle cx="558.9" cy="158.1" r="1.6" fill="#c40808" stroke="#e01616" stroke-width="0.55"/>
<circle cx="562.3" cy="159.8" r="1.6" fill="#c40808" stroke="#e01616" stroke-width="0.55"/>
<circle cx="568.4" cy="158.6" r="1.6" fill="#c40808" stroke="#e01616" stroke-width="0.55"/>
<circle cx="542.6" cy="163.2" r="1.6" fill="#c40808" stroke="#e01616" stroke-width="0.55"/>
<circle cx="546.9" cy="163.2" r="1.6" fill="#c40808" stroke="#e01616" stroke-width="0.55"/>
<circle cx="552.9" cy="164.4" r="1.6" fill="#c40808" stroke="#e01616" stroke-width="0.55"/>
<circle cx="557.2" cy="164.1" r="1.6" fill="#c40808" stroke="#e01616" stroke-width="0.55"/>
<circle cx="562.3" cy="164.1" r="1.6" fill="#c40808" stroke="#e01616" stroke-width="0.55"/>
<circle cx="576.1" cy="162.4" r="1.6" fill="#c40808" stroke="#e01616" stroke-width="0.55"/>
<circle cx="545.2" cy="168.7" r="1.6" fill="#c40808" stroke="#e01616" stroke-width="0.55"/>
<circle cx="549.5" cy="170.6" r="1.6" fill="#c40808" stroke="#e01616" stroke-width="0.55"/>
<circle cx="559.8" cy="168.4" r="1.6" fill="#c40808" stroke="#e01616" stroke-width="0.55"/>
<circle cx="564.1" cy="171.0" r="1.6" fill="#c40808" stroke="#e01616" stroke-width="0.55"/>
<circle cx="570.9" cy="175.3" r="1.6" fill="#c40808" stroke="#e01616" stroke-width="0.55"/>
<circle cx="521.8" cy="114.3" r="1.6" fill="#c40808" stroke="#e01616" stroke-width="0.55"/>
<circle cx="534.6" cy="130.1" r="1.6" fill="#c40808" stroke="#e01616" stroke-width="0.55"/>
<circle cx="514.4" cy="142.0" r="1.6" fill="#c40808" stroke="#e01616" stroke-width="0.55"/>
<circle cx="506.2" cy="137.8" r="1.6" fill="#c40808" stroke="#e01616" stroke-width="0.55"/>
<circle cx="504.1" cy="159.8" r="1.6" fill="#c40808" stroke="#e01616" stroke-width="0.55"/>
<circle cx="501.5" cy="157.2" r="1.6" fill="#c40808" stroke="#e01616" stroke-width="0.55"/>
<circle cx="531.5" cy="165.8" r="1.6" fill="#5a0000" stroke="#700808" stroke-width="0.55"/>
<circle cx="536.7" cy="164.1" r="1.6" fill="#c40808" stroke="#e01616" stroke-width="0.55"/>
<circle cx="533.3" cy="148.6" r="1.6" fill="#5a0000" stroke="#700808" stroke-width="0.55"/>
<circle cx="536.7" cy="152.1" r="1.6" fill="#c40808" stroke="#e01616" stroke-width="0.55"/>
<circle cx="535.0" cy="157.2" r="1.6" fill="#c40808" stroke="#e01616" stroke-width="0.55"/>
<circle cx="538.4" cy="159.8" r="1.6" fill="#c40808" stroke="#e01616" stroke-width="0.55"/>
<circle cx="539.8" cy="163.4" r="1.6" fill="#c40808" stroke="#e01616" stroke-width="0.55"/>
<circle cx="573.7" cy="178.7" r="1.6" fill="#c40808" stroke="#e01616" stroke-width="0.55"/>
<circle cx="560.9" cy="142.6" r="1.6" fill="#c40808" stroke="#e01616" stroke-width="0.55"/>
<circle cx="565.2" cy="145.2" r="1.6" fill="#c40808" stroke="#e01616" stroke-width="0.55"/>
<circle cx="569.5" cy="145.2" r="1.6" fill="#c40808" stroke="#e01616" stroke-width="0.55"/>
<circle cx="538.3" cy="148.8" r="1.6" fill="#c40808" stroke="#e01616" stroke-width="0.55"/>
<circle cx="556.8" cy="167.2" r="1.6" fill="#c40808" stroke="#e01616" stroke-width="0.55"/>
<circle cx="549.9" cy="167.3" r="1.6" fill="#c40808" stroke="#e01616" stroke-width="0.55"/>
<circle cx="538.0" cy="142.5" r="1.6" fill="#c40808" stroke="#e01616" stroke-width="0.55"/>
<circle cx="554.2" cy="169.6" r="1.6" fill="#c40808" stroke="#e01616" stroke-width="0.55"/>
<circle cx="556.0" cy="140.8" r="1.6" fill="#c40808" stroke="#e01616" stroke-width="0.55"/>
<circle cx="551.2" cy="151.8" r="1.6" fill="#c40808" stroke="#e01616" stroke-width="0.55"/>
<circle cx="560.9" cy="146.5" r="1.6" fill="#c40808" stroke="#e01616" stroke-width="0.55"/>
<circle cx="550.0" cy="132.3" r="1.6" fill="#1008c0" stroke="#2020ec" stroke-width="0.55"/>
<circle cx="538.4" cy="101.2" r="1.6" fill="#1008c0" stroke="#2020ec" stroke-width="0.55"/>
<circle cx="517.5" cy="120.7" r="1.6" fill="#1008c0" stroke="#2020ec" stroke-width="0.55"/>
<circle cx="479.5" cy="151.0" r="1.6" fill="#1008c0" stroke="#2020ec" stroke-width="0.55"/>
<circle cx="496.4" cy="149.8" r="1.6" fill="#1008c0" stroke="#2020ec" stroke-width="0.55"/>
<circle cx="494.6" cy="152.7" r="1.6" fill="#1008c0" stroke="#2020ec" stroke-width="0.55"/>
<circle cx="498.8" cy="165.7" r="1.6" fill="#1008c0" stroke="#2020ec" stroke-width="0.55"/>
<circle cx="499.3" cy="157.5" r="1.6" fill="#1008c0" stroke="#2020ec" stroke-width="0.55"/>
<circle cx="505.1" cy="172.4" r="1.6" fill="#1008c0" stroke="#2020ec" stroke-width="0.55"/>
<circle cx="506.3" cy="165.2" r="1.6" fill="#1008c0" stroke="#2020ec" stroke-width="0.55"/>
<circle cx="510.6" cy="163.4" r="1.6" fill="#00005a" stroke="#000072" stroke-width="0.55"/>
<circle cx="512.3" cy="167.7" r="1.6" fill="#00005a" stroke="#000072" stroke-width="0.55"/>
<circle cx="514.9" cy="164.3" r="1.6" fill="#00005a" stroke="#000072" stroke-width="0.55"/>
<circle cx="518.4" cy="163.4" r="1.6" fill="#00005a" stroke="#000072" stroke-width="0.55"/>
<circle cx="521.8" cy="164.3" r="1.6" fill="#00005a" stroke="#000072" stroke-width="0.55"/>
<circle cx="525.2" cy="163.4" r="1.6" fill="#00005a" stroke="#000072" stroke-width="0.55"/>
<circle cx="526.1" cy="165.2" r="1.6" fill="#00005a" stroke="#000072" stroke-width="0.55"/>
<circle cx="510.6" cy="160.9" r="1.6" fill="#00005a" stroke="#000072" stroke-width="0.55"/>
<circle cx="501.5" cy="138.3" r="1.6" fill="#1008c0" stroke="#2020ec" stroke-width="0.55"/>
<circle cx="510.1" cy="140.9" r="1.6" fill="#1008c0" stroke="#2020ec" stroke-width="0.55"/>
<circle cx="502.3" cy="151.2" r="1.6" fill="#1008c0" stroke="#2020ec" stroke-width="0.55"/>
<circle cx="511.8" cy="147.8" r="1.6" fill="#00005a" stroke="#000072" stroke-width="0.55"/>
<circle cx="512.6" cy="150.3" r="1.6" fill="#00005a" stroke="#000072" stroke-width="0.55"/>
<circle cx="510.1" cy="153.8" r="1.6" fill="#00005a" stroke="#000072" stroke-width="0.55"/>
<circle cx="512.6" cy="156.4" r="1.6" fill="#00005a" stroke="#000072" stroke-width="0.55"/>
<circle cx="515.2" cy="158.1" r="1.6" fill="#00005a" stroke="#000072" stroke-width="0.55"/>
<circle cx="517.8" cy="155.5" r="1.6" fill="#00005a" stroke="#000072" stroke-width="0.55"/>
<circle cx="507.5" cy="166.7" r="1.6" fill="#1008c0" stroke="#2020ec" stroke-width="0.55"/>
<circle cx="526.4" cy="142.6" r="1.6" fill="#00005a" stroke="#000072" stroke-width="0.55"/>
<circle cx="531.5" cy="152.9" r="1.6" fill="#00005a" stroke="#000072" stroke-width="0.55"/>
<circle cx="519.5" cy="159.8" r="1.6" fill="#00005a" stroke="#000072" stroke-width="0.55"/>
<text transform="translate(22.43,82.90) scale(0.1169,0.1129)" font-size="100">30</text>
<text transform="translate(22.31,129.80) scale(0.1180,0.1100)" font-size="100">20</text>
<text transform="translate(21.99,176.80) scale(0.1210,0.1100)" font-size="100">10</text>
<text transform="translate(19.17,190.00) scale(0.1113,0.1071)" font-size="100">100</text>
<text transform="translate(63.43,210.60) scale(0.1262,0.1171)" font-size="100">80</text>
<text transform="translate(103.57,230.20) scale(0.1268,0.1129)" font-size="100">60</text>
<text transform="translate(143.75,249.80) scale(0.1232,0.1114)" font-size="100">40</text>
<text transform="translate(163.46,249.80) scale(0.1199,0.1114)" font-size="100">400</text>
<text transform="translate(207.11,231.40) scale(0.1233,0.1071)" font-size="100">350</text>
<text transform="translate(250.72,212.00) scale(0.1208,0.1143)" font-size="100">300</text>
<text transform="translate(293.87,192.80) scale(0.1266,0.1129)" font-size="100">250</text>
<text transform="translate(386.43,101.80) scale(0.1169,0.1114)" font-size="100">30</text>
<text transform="translate(386.31,141.60) scale(0.1180,0.1100)" font-size="100">20</text>
<text transform="translate(387.22,182.00) scale(0.1040,0.1029)" font-size="100">10</text>
<text transform="translate(387.75,194.00) scale(0.1230,0.1143)" font-size="100">400</text>
<text transform="translate(435.10,212.00) scale(0.1239,0.1100)" font-size="100">350</text>
<text transform="translate(481.81,230.50) scale(0.1226,0.1171)" font-size="100">300</text>
<text transform="translate(529.42,251.00) scale(0.1158,0.1143)" font-size="100">250</text>
<text transform="translate(551.25,247.20) scale(0.1232,0.1029)" font-size="100">40</text>
<text transform="translate(586.60,222.70) scale(0.1210,0.1114)" font-size="100">60</text>
<text transform="translate(621.54,198.60) scale(0.1252,0.1029)" font-size="100">80</text>
<text transform="translate(652.65,175.70) scale(0.1260,0.1114)" font-size="100">100</text>
<text transform="translate(28.10,235.70) scale(0.1870,0.1739)" font-size="100">MCV (fl)</text>
<text transform="translate(215.44,245.90) scale(0.1819,0.1725)" font-size="100">MCHC (g/L)</text>
<text transform="translate(15.50,164.28) rotate(-90) scale(0.1721,0.1754)" font-size="100">RDW (%)</text>
<text transform="translate(378.14,234.90) scale(0.1830,0.1725)" font-size="100">MCHC (g/L)</text>
<text transform="translate(610.32,222.10) scale(0.1847,0.1710)" font-size="100">MCV (fl)</text>
<text transform="translate(381.90,173.33) rotate(-90) scale(0.1662,0.1652)" font-size="100">RDW (%)</text>
<text class="big" transform="translate(143.77,286.32) scale(0.2330,0.2800)" font-size="100">a</text>
<text class="big" transform="translate(544.68,290.29) scale(0.3111,0.3075)" font-size="100">b</text>
<rect x="283.5" y="0.5" width="144.8" height="79.8" fill="#fff" stroke="#9a9a9a" stroke-width="1"/>
<circle cx="295.0" cy="8.6" r="1.5" fill="#4e9a1e" stroke="#8ccc44" stroke-width="0.8"/>
<circle cx="295.0" cy="24.4" r="1.6" fill="#c40808" stroke="#e01616" stroke-width="0.55"/>
<circle cx="295.0" cy="40.4" r="1.6" fill="#1008c0" stroke="#2020ec" stroke-width="0.55"/>
<rect x="286.7" y="58.0" width="16.6" height="11.1" fill="#000"/>
<text transform="translate(302.41,11.80) scale(0.1242,0.1145)" font-size="100">Healthy</text>
<text transform="translate(301.97,28.80) scale(0.1149,0.1130)" font-size="100">IDA</text>
<text transform="translate(304.40,44.70) scale(0.1017,0.1087)" font-size="100">TT</text>
<text transform="translate(305.97,66.80) scale(0.1178,0.1087)" font-size="100">QDA Decision Surface</text>
</svg></body></html>
